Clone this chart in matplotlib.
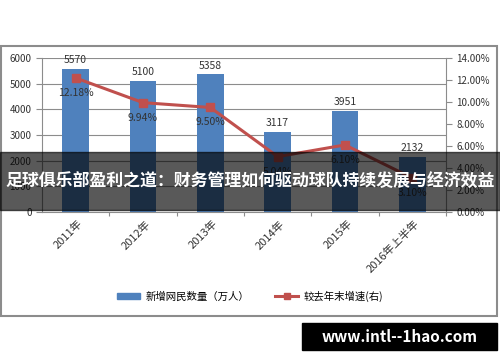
import matplotlib
matplotlib.use("Agg")
import matplotlib.pyplot as plt
from matplotlib.patches import Rectangle
from matplotlib.lines import Line2D
from matplotlib.ticker import FuncFormatter

plt.rcParams['font.family'] = ['Noto Sans CJK SC', 'DejaVu Sans']

# data
years = ['2011年', '2012年', '2013年', '2014年', '2015年', '2016年上半年']
new_users = [5570, 5100, 5358, 3117, 3951, 2132]
growth = [12.18, 9.94, 9.50, 5.04, 6.10, 3.10]

title = '足球俱乐部盈利之道：财务管理如何驱动球队持续发展与经济效益'
watermark = 'www.intl--1hao.com'

bar_color = '#4F81BD'
line_color = '#C0504D'
text_color = '#333333'

fig = plt.figure(figsize=(5, 3.62), dpi=100)

# outer chart border
fig.patches.append(Rectangle((0.002, 46 / 362), 0.992, 270 / 362, transform=fig.transFigure,
                             fill=False, edgecolor='#8c8c8c', linewidth=1.5))

ax = fig.add_axes([0.084, 0.414, 0.808, 0.426])
x = list(range(len(years)))
ax.bar(x, new_users, width=0.4, color=bar_color, zorder=2)
ax.set_xlim(-0.5, len(years) - 0.5)
ax.set_ylim(0, 6000)
ax.set_yticks(range(0, 6001, 1000))
ax.yaxis.grid(True, color='#8c8c8c', linewidth=0.8)
ax.set_axisbelow(True)
for s in ['top', 'right']:
    ax.spines[s].set_visible(False)
ax.spines['left'].set_color('#8c8c8c')
ax.spines['bottom'].set_color('#8c8c8c')
ax.tick_params(axis='y', labelsize=7, colors='#8c8c8c', labelcolor=text_color, length=4)
ax.set_xticks([i + 0.5 for i in x], minor=False)
ax.set_xticklabels([])
ax.tick_params(axis='x', length=3, colors='#8c8c8c')
for i, lab in enumerate(years):
    ax.text(i + 0.03, -250, lab, rotation=45, ha='right', va='top', fontsize=8,
            color=text_color, rotation_mode='anchor')
for i, v in enumerate(new_users):
    ax.text(i, v + 150, str(v), ha='center', va='bottom', fontsize=7.5, color=text_color)

ax2 = ax.twinx()
ax2.plot(x, growth, color=line_color, linewidth=2.2, marker='s', markersize=6, zorder=3)
ax2.set_ylim(0, 14)
ax2.set_yticks(range(0, 15, 2))
ax2.yaxis.set_major_formatter(FuncFormatter(lambda v, p: f'{v:.2f}%'))
for s in ['top', 'left', 'bottom']:
    ax2.spines[s].set_visible(False)
ax2.spines['right'].set_color('#8c8c8c')
ax2.tick_params(axis='y', labelsize=7, colors='#8c8c8c', labelcolor=text_color, length=4)
for i, v in enumerate(growth):
    ax2.text(i, v - 0.9, f'{v:.2f}%', ha='center', va='top', fontsize=7.5, color=text_color)

# legend
handles = [Rectangle((0, 0), 1, 1, color=bar_color),
           Line2D([], [], color=line_color, linewidth=2.2, marker='s', markersize=5)]
fig.legend(handles, ['新增网民数量（万人）', '较去年末增速(右)'], loc='center',
           bbox_to_anchor=(0.5, 0.182), ncol=2, frameon=False, fontsize=7.5,
           handlelength=2.2, handletextpad=0.5, columnspacing=2.5, handleheight=0.4)

# dark title banner
fig.patches.append(Rectangle((0, 152 / 362), 1, 58 / 362, transform=fig.transFigure,
                             color='black', alpha=0.65, zorder=10))
fig.text(0.5, 181 / 362, title, ha='center', va='center', color='white', fontsize=12.2,
         fontweight='bold', zorder=11)

# watermark
fig.patches.append(Rectangle((0.604, 12 / 362), 0.39, 27 / 362, transform=fig.transFigure,
                             color='black', zorder=10))
fig.text(0.799, 25.5 / 362, watermark, ha='center', va='center', color='white', fontsize=11,
         fontweight='bold', zorder=11)

fig.savefig('out.png', dpi=100)
